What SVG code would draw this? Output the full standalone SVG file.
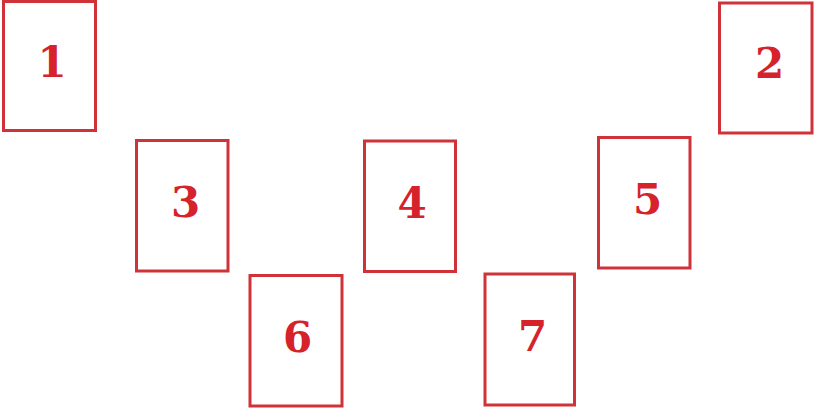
<svg xmlns="http://www.w3.org/2000/svg" width="814" height="411" viewBox="0 0 814 411">
<style>
.card{fill:#fff;stroke:#cf3238;stroke-width:3}
.num{font-family:"DejaVu Serif","Liberation Serif",serif;font-weight:bold;font-size:42px;fill:#d6222b;text-anchor:middle}
</style>
<rect width="814" height="411" fill="#fff"/>
<g id="connectors"/>
<g id="card1"><rect class="card" x="3.5" y="1.5" width="92" height="129"/><text class="num" x="52" y="77">1</text></g>
<g id="card2"><rect class="card" x="719.5" y="3" width="92.5" height="130"/><text class="num" x="769.5" y="78">2</text></g>
<g id="card3"><rect class="card" x="136.5" y="140.5" width="91.5" height="130.5"/><text class="num" x="185.5" y="217">3</text></g>
<g id="card4"><rect class="card" x="364.5" y="141" width="91" height="130.5"/><text class="num" x="412" y="218">4</text></g>
<g id="card5"><rect class="card" x="598.5" y="137.5" width="91.5" height="130.5"/><text class="num" x="647.5" y="214">5</text></g>
<g id="card6"><rect class="card" x="250" y="275.5" width="92" height="130.5"/><text class="num" x="297.5" y="352">6</text></g>
<g id="card7"><rect class="card" x="485" y="274" width="89.5" height="131"/><text class="num" x="532.5" y="351">7</text></g>
</svg>
